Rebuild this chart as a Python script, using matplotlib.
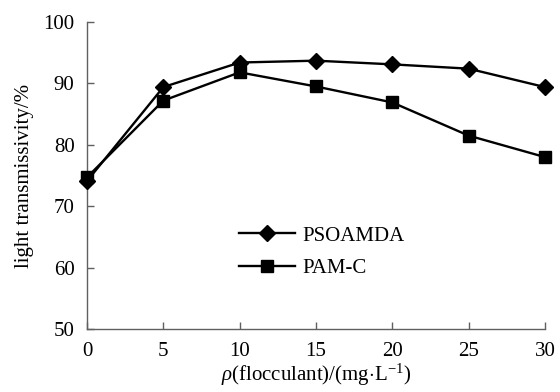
import matplotlib
matplotlib.use("Agg")
import matplotlib.pyplot as plt

x = [0, 5, 10, 15, 20, 25, 30]
psoamda = [74.1, 89.4, 93.4, 93.7, 93.1, 92.4, 89.4]
pamc = [74.7, 87.2, 91.8, 89.5, 86.9, 81.5, 78.0]
xticks = [0, 5, 10, 15, 20, 25, 30]
yticks = [50, 60, 70, 80, 90, 100]

plt.rcParams['font.family'] = ['Liberation Serif', 'DejaVu Serif']
plt.rcParams['mathtext.fontset'] = 'custom'
plt.rcParams['mathtext.rm'] = 'Liberation Serif'
plt.rcParams['mathtext.it'] = 'Liberation Serif:italic'

fig = plt.figure(figsize=(5.6, 3.92), dpi=100)
ax = fig.add_axes([0.1554, 0.1607, 0.8176, 0.7832])
ax.plot(x, psoamda, color='black', lw=1.7, marker='D', markersize=8.5, label='PSOAMDA', clip_on=False, zorder=3)
ax.plot(x, pamc, color='black', lw=1.7, marker='s', markersize=8.2, label='PAM-C', clip_on=False, zorder=3)
ax.set_xlim(0, 30)
ax.set_ylim(50, 100)
ax.set_xticks(xticks)
ax.set_yticks(yticks)
for s in ['top', 'right']:
    ax.spines[s].set_visible(False)
for s in ['left', 'bottom']:
    ax.spines[s].set_color('#606060')
    ax.spines[s].set_linewidth(1.0)
ax.tick_params(direction='in', length=5, width=1, color='#606060', labelsize=15)
ax.tick_params(axis='y', pad=9)
ax.tick_params(axis='x', pad=9)
ax.set_ylabel('light transmissivity/%', fontsize=15, labelpad=7)
ax.set_xlabel(r'$\rho$(flocculant)/(mg$\cdot$L$^{-1}$)', fontsize=15, labelpad=1)
ax.legend(loc='upper left', bbox_to_anchor=(0.332, 0.335), frameon=False, fontsize=15,
          handlelength=2.7, handletextpad=0.35, labelspacing=0.6, borderpad=0, borderaxespad=0)
fig.savefig('out.png', dpi=100)
